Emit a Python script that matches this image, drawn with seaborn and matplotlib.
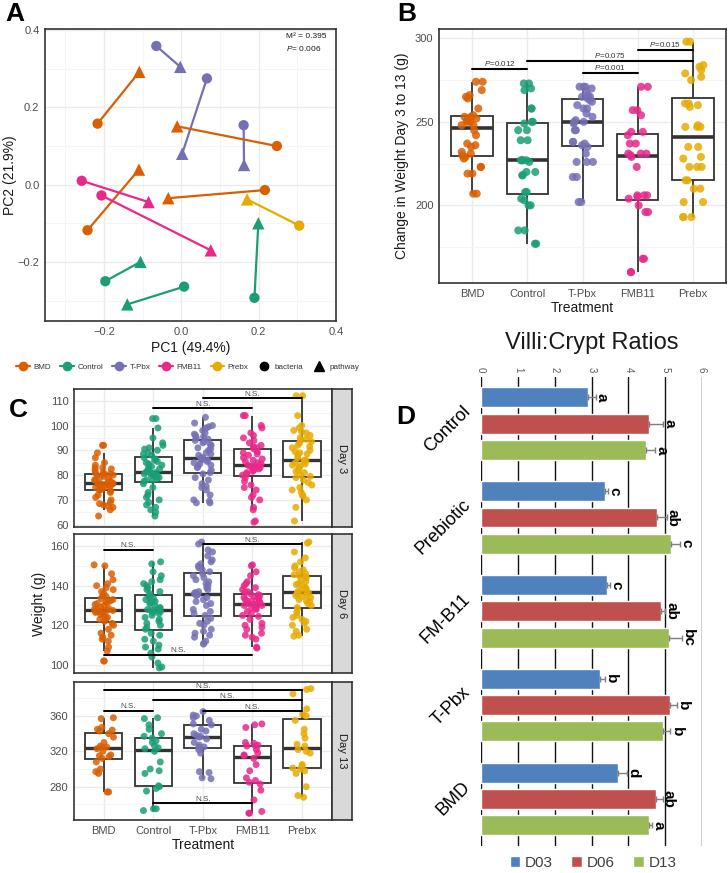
import numpy as np
import pandas as pd
import matplotlib
matplotlib.use('Agg')
import matplotlib.pyplot as plt
import seaborn as sns
from matplotlib.lines import Line2D
from matplotlib.ticker import MultipleLocator

np.random.seed(3)
sns.set_theme(style='white')
plt.rcParams['font.family'] = ['Liberation Sans', 'DejaVu Sans']
plt.rcParams['mathtext.fontset'] = 'custom'
plt.rcParams['mathtext.rm'] = 'Liberation Sans'
plt.rcParams['mathtext.it'] = 'Liberation Sans:italic'

# ---------------- data ----------------
treatments = ['BMD', 'Control', 'T-Pbx', 'FMB11', 'Prebx']
colors = ['#D95F02', '#1B9E77', '#7570B3', '#E7298A', '#E6AB02']

# Panel A: PCA pairs (bacteria -> pathway)
pca_group = ['T-Pbx', 'T-Pbx', 'T-Pbx', 'BMD', 'BMD', 'BMD', 'BMD',
             'FMB11', 'FMB11', 'Prebx', 'Control', 'Control', 'Control']
bact_pc1 = [-0.065, 0.066, 0.161, -0.217, 0.247, -0.243, 0.216, -0.258, -0.207, 0.305, -0.197, 0.007, 0.189]
bact_pc2 = [0.359, 0.275, 0.154, 0.158, 0.100, -0.118, -0.014, 0.010, -0.028, -0.106, -0.250, -0.264, -0.293]
path_pc1 = [-0.003, 0.002, 0.162, -0.109, -0.011, -0.110, -0.034, -0.085, 0.076, 0.170, -0.106, -0.140, 0.199]
path_pc2 = [0.305, 0.080, 0.051, 0.292, 0.151, 0.039, -0.035, -0.045, -0.170, -0.038, -0.200, -0.310, -0.100]

# Panel B: change in weight day 3 to 13
b_bmd = [207, 207, 219, 219, 223, 223, 228, 229, 230, 231, 232, 235, 236, 237, 242, 245,
         248, 248, 250, 250, 251, 252, 253, 253, 254, 258, 264, 265, 266, 269, 274, 274]
b_control = [177, 177, 185, 185, 200, 200, 203, 204, 208, 208, 218, 218, 220, 220, 226, 227,
             227, 227, 227, 239, 239, 245, 245, 249, 250, 250, 258, 258, 269, 270, 273, 273]
b_tpbx = [202, 202, 217, 217, 226, 226, 226, 231, 235, 236, 237, 238, 238, 245, 245, 249, 250, 250,
          251, 253, 255, 258, 258, 260, 262, 263, 264, 265, 265, 266, 268, 270, 271, 271, 271]
b_fmb11 = [160, 160, 168, 168, 196, 196, 200, 204, 205, 206, 206, 206, 223, 229, 230, 231,
           231, 231, 237, 237, 242, 244, 244, 254, 257, 257, 271, 271]
b_prebx = [193, 193, 193, 202, 202, 210, 210, 215, 215, 223, 223, 223, 228, 229, 235, 235,
           247, 247, 247, 248, 259, 260, 261, 261, 275, 277, 279, 281, 283, 284, 298, 298]
b_pairs = [('BMD', 'Control'), ('Control', 'Prebx'), ('T-Pbx', 'FMB11'), ('FMB11', 'Prebx')]
b_pvals = ['0.012', '0.075', '0.001', '0.015']
b_line_y = [281.4, 286.4, 279.0, 293.0]

# Panel C: weights by day
c_days = ['Day 3', 'Day 6', 'Day 13']
c3_bmd = [63.5, 66, 67, 67.5, 68, 68.5, 69, 70, 71, 72, 73, 73.5, 74, 74, 74.5, 75, 75, 75.5, 76, 76,
          76.5, 76.5, 76.5, 76.5, 76.8, 77, 77.5, 78, 78, 78.5, 79, 79.5, 80, 80, 80.5, 80.5, 81, 81,
          82, 82.5, 83, 83, 84, 85, 87, 89, 92, 92]
c3_control = [63.5, 65, 66, 67, 68, 69, 70, 71, 72, 73, 75, 76.5, 77.5, 78, 78, 78.5, 79, 79.5, 80,
              80, 80.5, 80.5, 81, 81, 81.2, 82, 82.5, 83, 83.5, 84, 84.5, 85, 85.5, 86, 86.5, 87, 88,
              88.5, 89, 90, 90.5, 91, 92, 93, 95, 99, 102.8, 102.8]
c3_tpbx = [68.8, 68.8, 69.5, 70, 72, 74, 75, 75.5, 76.5, 78, 79, 80.5, 81, 82, 83, 83.5, 84, 84.5,
           85, 85.5, 86, 86, 86.5, 87, 87, 88, 88.5, 89, 90, 90.5, 91, 92, 92.5, 93, 93.5, 94, 94.5,
           95, 95.5, 96, 96.5, 97, 98, 99, 99.5, 100, 101, 103.3]
c3_fmb11 = [61, 61.5, 66, 67, 70, 71, 72, 74, 75, 76, 77.5, 79, 80, 80.5, 81, 81.5, 82, 82.5, 83, 83,
            83.5, 83.5, 83.5, 83.8, 84, 84.5, 85, 85.5, 86, 86.5, 87, 88, 88.5, 89, 89.5, 90.5, 91,
            91.5, 92, 93, 94, 95, 96, 97, 99, 100, 104, 104]
c3_prebx = [61.5, 67, 70, 71.5, 72, 73, 74, 75, 76, 77, 78, 79, 79.5, 80, 81, 81.5, 82, 83, 83.5, 84,
            84.5, 85, 85.5, 86, 86, 87, 88, 88.5, 89, 89.5, 90, 91, 91.5, 92, 93, 93.5, 94, 94.5, 95,
            96, 97, 97.5, 98, 99, 100, 104, 112, 112]
c6_bmd = [102, 102, 107, 109, 112, 113, 114, 115, 116, 118, 120, 121, 122, 123, 123.5, 124, 125, 125.5,
          126, 126.5, 127, 127, 127.5, 127.5, 127.7, 128, 128.5, 129, 130, 130.5, 131, 131.5, 132, 132.5,
          133, 133.5, 134.5, 135, 136, 137, 138, 139, 140, 141, 143, 146, 150, 150.5]
c6_control = [98.5, 99, 101, 104, 106, 108, 109, 110, 112, 113, 115, 116, 118, 119, 120, 121, 122, 123,
              124, 125, 126, 126.5, 127, 127.5, 127.7, 128, 128.5, 129, 130, 131, 131.5, 132, 133, 133.5,
              134, 135, 136, 137, 138, 139, 140, 141, 142, 143, 145, 147, 151, 152]
c6_tpbx = [110.5, 111, 112, 114, 115, 116, 117, 118, 120, 121, 122, 123.5, 125, 126, 127, 128, 130, 131,
           132, 133, 134, 135, 135.5, 136, 136, 136.5, 137, 138, 139, 140, 141, 142, 143, 144, 145, 146,
           147, 148, 149, 150, 151, 152, 153, 155, 157, 158, 161, 162]
c6_fmb11 = [108.5, 109, 113, 114, 115, 116, 118, 119, 120, 121, 123, 124.5, 125, 126, 127, 128, 128.5,
            129, 129.5, 130, 130, 130.5, 130.5, 130.8, 131, 131.5, 132, 132, 132.5, 133, 133.5, 134, 134,
            134.5, 135, 135.5, 136, 136.5, 137, 138, 139, 140, 141, 142, 145, 147, 150, 150.5]
c6_prebx = [114.5, 115, 117, 118, 120, 121, 122, 123, 124, 125, 126.5, 128, 129, 130, 131, 132, 132.5,
            133, 134, 134.5, 135, 135.5, 136, 136.5, 136.7, 137, 138, 138.5, 139, 140, 140.5, 141, 142,
            143, 144, 144.5, 145, 145.5, 146, 147, 148, 149, 150, 152, 154, 157, 161.5, 162]
c13_bmd = [274, 274, 295, 297, 300, 308, 312, 314, 315, 316, 320, 323, 325, 325, 326, 330, 336, 340,
           343, 344, 345, 347, 357, 358]
c13_control = [253, 255, 255, 275, 278, 280, 281, 295, 298, 300, 308, 320, 323, 324, 326, 330, 332, 335,
               337, 340, 345, 350, 357, 358]
c13_tpbx = [289, 290, 296, 297, 318, 322, 325, 325, 327, 330, 334, 336, 337, 338, 340, 343, 345, 350,
            351, 355, 358, 360, 361, 365]
c13_fmb11 = [250, 250, 252, 265, 276, 283, 285, 287, 290, 298, 305, 312, 315, 316, 318, 322, 326, 326,
             327, 329, 330, 347, 350, 351]
c13_prebx = [268, 270, 280, 295, 298, 300, 301, 304, 305, 318, 320, 322, 326, 328, 335, 340, 345, 355,
             360, 362, 368, 385, 390, 391]
c_brackets = [
    [('Control', 'FMB11', 106.9), ('T-Pbx', 'Prebx', 110.9)],
    [('BMD', 'Control', 158.1), ('T-Pbx', 'Prebx', 161.0), ('BMD', 'FMB11', 105.2)],
    [('BMD', 'Prebx', 389.0), ('Control', 'Prebx', 377.7), ('BMD', 'Control', 366.2),
     ('T-Pbx', 'Prebx', 365.6), ('Control', 'FMB11', 261.5)],
]

# Panel D: villi:crypt ratios
d_groups = ['Control', 'Prebiotic', 'FM-B11', 'T-Pbx', 'BMD']
d_days = ['D03', 'D06', 'D13']
d_colors = ['#4F81BD', '#C0504D', '#9BBB59']
d_d03 = [2.91, 3.36, 3.42, 3.22, 3.71]
d_d06 = [4.55, 4.78, 4.88, 5.14, 4.74]
d_d13 = [4.48, 5.15, 5.11, 4.93, 4.56]
d_err03 = [0.20, 0.08, 0.08, 0.15, 0.25]
d_err06 = [0.39, 0.26, 0.12, 0.18, 0.19]
d_err13 = [0.25, 0.25, 0.34, 0.21, 0.08]
d_let03 = ['a', 'c', 'c', 'b', 'd']
d_let06 = ['a', 'ab', 'ab', 'b', 'ab']
d_let13 = ['a', 'c', 'bc', 'b', 'a']

# ---------------- layout helpers ----------------
W, H = 728, 873
fig = plt.figure(figsize=(W / 100, H / 100), dpi=100)
fig.patch.set_facecolor('white')
pal = dict(zip(treatments, colors))


def add_ax(x0, y0, x1, y1):
    return fig.add_axes([x0 / W, 1 - y1 / H, (x1 - x0) / W, (y1 - y0) / H])


def fx(x):
    return x / W


def fy(y):
    return 1 - y / H


def gg_style(ax, minor_x=True):
    ax.set_facecolor('white')
    for s in ax.spines.values():
        s.set_visible(True)
        s.set_color('#333333')
        s.set_linewidth(1.2)
    ax.tick_params(axis='both', which='major', length=2.5, width=0.7, color='#333333',
                   labelsize=8, labelcolor='#4D4D4D', pad=1.5)
    ax.tick_params(axis='both', which='minor', length=0)
    ax.grid(True, which='major', color='#EBEBEB', lw=1.0)
    ax.grid(True, which='minor', axis='y', color='#F4F4F4', lw=0.6)
    if minor_x:
        ax.grid(True, which='minor', axis='x', color='#F4F4F4', lw=0.6)
    ax.set_axisbelow(True)


# ---------------- Panel A ----------------
axA = add_ax(45, 29, 336, 321)
n = len(pca_group)
dfA = pd.DataFrame({
    'pair': list(range(n)) * 2,
    'Treatment': pca_group * 2,
    'type': ['bacteria'] * n + ['pathway'] * n,
    'PC1': bact_pc1 + path_pc1,
    'PC2': bact_pc2 + path_pc2,
})
sns.lineplot(data=dfA, x='PC1', y='PC2', hue='Treatment', units='pair', estimator=None,
             sort=False, palette=pal, lw=1.6, legend=False, ax=axA, zorder=2)
sns.scatterplot(data=dfA[dfA['type'] == 'bacteria'], x='PC1', y='PC2', hue='Treatment',
                palette=pal, marker='o', s=55, linewidth=0, legend=False, ax=axA, zorder=3)
sns.scatterplot(data=dfA[dfA['type'] == 'pathway'], x='PC1', y='PC2', hue='Treatment',
                palette=pal, marker='^', s=80, linewidth=0, legend=False, ax=axA, zorder=3)
gg_style(axA)
axA.set_xlim(-0.353, 0.4)
axA.set_ylim(-0.353, 0.403)
axA.set_xticks([-0.2, 0.0, 0.2, 0.4], ['\u22120.2', '0.0', '0.2', '0.4'])
axA.set_yticks([-0.2, 0.0, 0.2, 0.4], ['\u22120.2', '0.0', '0.2', '0.4'])
axA.xaxis.set_minor_locator(MultipleLocator(0.1))
axA.yaxis.set_minor_locator(MultipleLocator(0.1))
axA.set_xlabel('PC1 (49.4%)', fontsize=10, labelpad=3, color='#1A1A1A')
axA.set_ylabel('PC2 (21.9%)', fontsize=10, color='#1A1A1A')
axA.yaxis.set_label_coords((17 - 45) / 291, 0.5)
axA.text(0.323, 0.384, 'M\u00b2 = 0.395', fontsize=6, ha='center', va='center', color='#1A1A1A')
axA.text(0.316, 0.353, '$P$= 0.006', fontsize=6, ha='center', va='center', color='#1A1A1A')

handles = [Line2D([0], [0], color=c, marker='o', markersize=6, lw=1.6) for c in colors]
handles += [Line2D([0], [0], color='black', marker='o', markersize=6, lw=0),
            Line2D([0], [0], color='black', marker='^', markersize=7, lw=0)]
fig.legend(handles, treatments + ['bacteria', 'pathway'], loc='center',
           bbox_to_anchor=(fx(188), fy(367)), ncol=7, frameon=False, fontsize=5.8,
           handlelength=1.7, handletextpad=0.45, columnspacing=1.1, labelcolor='#333333',
           borderaxespad=0, borderpad=0)

# ---------------- Panel B ----------------
axB = add_ax(439, 29, 726, 283)
dfB = pd.DataFrame({
    'Treatment': sum([[t] * len(v) for t, v in zip(treatments, [b_bmd, b_control, b_tpbx, b_fmb11, b_prebx])], []),
    'Change': b_bmd + b_control + b_tpbx + b_fmb11 + b_prebx,
})
sns.boxplot(data=dfB, x='Treatment', y='Change', order=treatments, ax=axB, color='white',
            linecolor='#333333', linewidth=1.3, width=0.75, showfliers=False, showcaps=False,
            medianprops=dict(linewidth=2.6), saturation=1)
sns.stripplot(data=dfB, x='Treatment', y='Change', order=treatments, hue='Treatment',
              hue_order=treatments, palette=pal, jitter=0.2, size=5.8, alpha=0.85, linewidth=0,
              legend=False, ax=axB)
for c in axB.collections:
    c.set_zorder(4)
gg_style(axB, minor_x=False)
axB.set_xlim(-0.6, 4.6)
axB.set_ylim(153.5, 305.6)
axB.set_yticks([200, 250, 300])
axB.yaxis.set_minor_locator(MultipleLocator(25))
axB.set_xlabel('Treatment', fontsize=10, labelpad=2, color='#1A1A1A')
axB.set_ylabel('Change in Weight Day 3 to 13 (g)', fontsize=10, labelpad=4, color='#1A1A1A')
for (g1, g2), pv, yv in zip(b_pairs, b_pvals, b_line_y):
    i, j = treatments.index(g1), treatments.index(g2)
    axB.plot([i, j], [yv, yv], color='black', lw=1.5, zorder=5)
    axB.annotate('$P$=' + pv, xy=((i + j) / 2, yv), xytext=(0, 0.8), textcoords='offset points',
                 ha='center', va='bottom', fontsize=5.8, color='#333333', zorder=6)

# ---------------- Panel C ----------------
c_data = [
    [c3_bmd, c3_control, c3_tpbx, c3_fmb11, c3_prebx],
    [c6_bmd, c6_control, c6_tpbx, c6_fmb11, c6_prebx],
    [c13_bmd, c13_control, c13_tpbx, c13_fmb11, c13_prebx],
]
c_spans = [(389.3, 527.3), (534.3, 673.3), (681.7, 820.0)]
c_ylims = [(58.95, 114.6), (95.8, 165.9), (242.3, 398.8)]
c_major = [10, 20, 40]
for k, (day, groups) in enumerate(zip(c_days, c_data)):
    y0, y1 = c_spans[k]
    ax = add_ax(74, y0, 331.7, y1)
    dfC = pd.DataFrame({
        'Treatment': sum([[t] * len(v) for t, v in zip(treatments, groups)], []),
        'Weight': sum(groups, []),
    })
    sns.boxplot(data=dfC, x='Treatment', y='Weight', order=treatments, ax=ax, color='white',
                linecolor='#333333', linewidth=1.3, width=0.75, showfliers=False, showcaps=False,
                medianprops=dict(linewidth=2.4), saturation=1)
    sns.stripplot(data=dfC, x='Treatment', y='Weight', order=treatments, hue='Treatment',
                  hue_order=treatments, palette=pal, jitter=0.2, size=5.0, alpha=0.85,
                  linewidth=0, legend=False, ax=ax)
    for c in ax.collections:
        c.set_zorder(4)
    gg_style(ax, minor_x=False)
    ax.set_xlim(-0.6, 4.6)
    ax.set_ylim(*c_ylims[k])
    ax.yaxis.set_major_locator(MultipleLocator(c_major[k]))
    ax.yaxis.set_minor_locator(MultipleLocator(c_major[k] / 2))
    ax.set_ylabel('')
    if k < 2:
        ax.set_xlabel('')
        ax.tick_params(axis='x', labelbottom=False, bottom=False)
    else:
        ax.set_xlabel('Treatment', fontsize=10, labelpad=2, color='#1A1A1A')
    for g1, g2, yv in c_brackets[k]:
        i, j = treatments.index(g1), treatments.index(g2)
        ax.plot([i, j], [yv, yv], color='black', lw=1.4, zorder=5)
        ax.annotate('N.S.', xy=((i + j) / 2, yv), xytext=(0, 0.3), textcoords='offset points',
                    ha='center', va='bottom', fontsize=5.8, color='#4D4D4D', zorder=6)
    sax = add_ax(331.7, y0, 351.7, y1)
    sax.set_facecolor('#D9D9D9')
    sax.set_xticks([])
    sax.set_yticks([])
    for s in sax.spines.values():
        s.set_visible(True)
        s.set_color('#333333')
        s.set_linewidth(1.2)
    sax.text(0.5, 0.5, day, rotation=-90, ha='center', va='center', fontsize=8,
             color='#1A1A1A', transform=sax.transAxes)
fig.text(fx(39), fy(604), 'Weight (g)', rotation=90, ha='center', va='center', fontsize=10,
         color='#1A1A1A')

# ---------------- Panel D ----------------
axD = add_ax(481, 376.7, 702, 846)
dfD = pd.DataFrame({
    'group': d_groups * 3,
    'day': sum([[d] * len(d_groups) for d in d_days], []),
    'ratio': d_d03 + d_d06 + d_d13,
})
sns.barplot(data=dfD, x='ratio', y='group', hue='day', order=d_groups, hue_order=d_days,
            palette=d_colors, orient='h', width=0.838, gap=0.24, errorbar=None,
            saturation=1, ax=axD)
hD, lD = axD.get_legend_handles_labels()
if axD.get_legend() is not None:
    axD.get_legend().remove()
errs = [d_err03, d_err06, d_err13]
lets = [d_let03, d_let06, d_let13]
for cont, e_list, l_list in zip(axD.containers, errs, lets):
    centers = [p.get_y() + p.get_height() / 2 for p in cont.patches]
    vals = [p.get_width() for p in cont.patches]
    axD.errorbar(vals, centers, xerr=[[0] * len(vals), e_list], fmt='none', ecolor='#7F7F7F',
                 elinewidth=1.0, capsize=2.5, capthick=1.0, zorder=4)
    for v, e, cy, lt in zip(vals, e_list, centers, l_list):
        axD.text(v + e + 0.17, cy, lt, rotation=-90, ha='center', va='center', fontsize=11,
                 fontweight='bold', color='black')
axD.set_xlim(0, 6)
axD.set_ylim(4.5, -0.5)
axD.set_xticks(range(7))
axD.xaxis.set_ticks_position('top')
axD.tick_params(axis='x', length=0, labelsize=7, labelcolor='#595959', labelrotation=-90, pad=3,
                top=True, labeltop=True, bottom=False, labelbottom=False)
axD.set_yticks([])
axD.set_xlabel('')
axD.set_ylabel('')
for s in axD.spines.values():
    s.set_visible(False)
axD.grid(True, axis='x', color='#111111', lw=1.0)
axD.grid(False, axis='y')
axD.set_axisbelow(True)
axD.set_facecolor('white')
for i, g in enumerate(d_groups):
    axD.text(-0.059, i - 0.16, g, transform=axD.get_yaxis_transform(), rotation=45,
             rotation_mode='anchor', ha='right', va='center', fontsize=13, color='black')
fig.text(fx(592), fy(343), 'Villi:Crypt Ratios', ha='center', va='center', fontsize=17,
         color='#1A1A1A')
fig.legend(hD, lD, loc='center', bbox_to_anchor=(fx(593), fy(863)), ncol=3, frameon=False,
           fontsize=11, handlelength=0.7, handleheight=0.7, handletextpad=0.3,
           columnspacing=1.2, labelcolor='#404040', borderaxespad=0, borderpad=0)

# ---------------- panel letters ----------------
for lab, x, y in [('A', 15, 14), ('B', 407, 14), ('C', 18, 410), ('D', 406, 417)]:
    fig.text(fx(x), fy(y), lab, fontsize=19, fontweight='bold', ha='center', va='center',
             color='black')

fig.savefig('out.png', dpi=100, facecolor='white')
